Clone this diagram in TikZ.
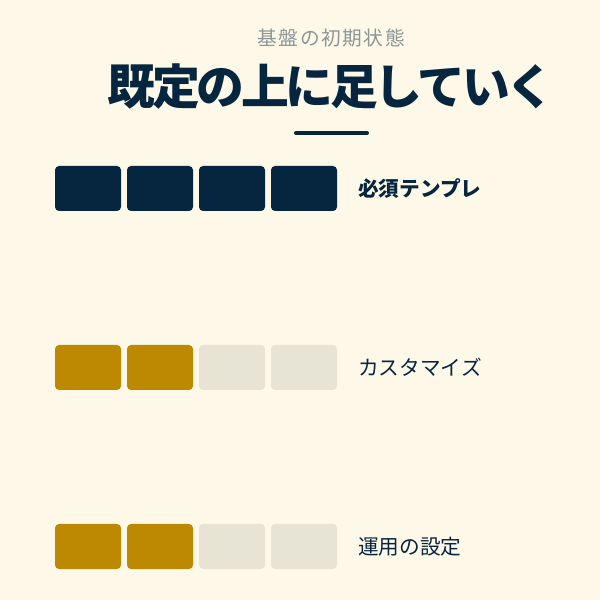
\documentclass[tikz,border=0pt]{standalone}
\usepackage{fontspec}
\usepackage{tikz}
\usetikzlibrary{positioning}
\newfontfamily\jpfont{Noto Sans CJK JP}
\definecolor{PageBack}{HTML}{FEF8E8}
\definecolor{BaseNavy}{HTML}{06263F}
\definecolor{CustomGold}{HTML}{BC8900}
\definecolor{EmptyGrey}{HTML}{E7E3D5}
\definecolor{SubGrey}{HTML}{8C9798}
\tikzset{
  cell/.style={rounded corners=0.1cm, minimum width=1.65cm, minimum height=1.125cm, inner sep=0pt},
  rowlabel/.style={anchor=west, inner sep=0pt, text=BaseNavy, font=\jpfont\fontsize{14.7}{16}\selectfont}
}

\begin{document}
\begin{tikzpicture}
    % Canvas
    \fill[PageBack] (0,0) rectangle (15,15);
    \useasboundingbox (0,0) rectangle (15,15);
    % Heading
    \node[text=SubGrey, font=\jpfont\addfontfeature{LetterSpace=8}\fontsize{14}{16}\selectfont] (subtitle) at (8.28,14.05) {基盤の初期状態};
    \node[text=BaseNavy, font=\jpfont\bfseries\addfontfeature{LetterSpace=-7}\fontsize{34}{38}\selectfont] (title) at (8.275,12.825) {既定の上に足していく};
    \coordinate (ruleL) at (7.4,11.675);
    \coordinate (ruleR) at (9.175,11.675);
    \draw[BaseNavy, line width=0.1cm, line cap=round] (ruleL) -- (ruleR);
    % Required template
    \node[cell, fill=BaseNavy] (reqA) at (2.2,10.2875) {};
    \node[cell, fill=BaseNavy] (reqB) at (4.0,10.2875) {};
    \node[cell, fill=BaseNavy] (reqC) at (5.8,10.2875) {};
    \node[cell, fill=BaseNavy] (reqD) at (7.6,10.2875) {};
    \node[rowlabel, font=\jpfont\bfseries\fontsize{14.7}{16}\selectfont] (reqText) at (8.95,10.29) {必須テンプレ};
    % Customize
    \node[cell, fill=CustomGold] (cusA) at (2.2,5.8125) {};
    \node[cell, fill=CustomGold] (cusB) at (4.0,5.8125) {};
    \node[cell, fill=EmptyGrey] (cusC) at (5.8,5.8125) {};
    \node[cell, fill=EmptyGrey] (cusD) at (7.6,5.8125) {};
    \node[rowlabel] (cusText) at (8.95,5.81) {カスタマイズ};
    % Operation settings
    \node[cell, fill=CustomGold] (opsA) at (2.2,1.3375) {};
    \node[cell, fill=CustomGold] (opsB) at (4.0,1.3375) {};
    \node[cell, fill=EmptyGrey] (opsC) at (5.8,1.3375) {};
    \node[cell, fill=EmptyGrey] (opsD) at (7.6,1.3375) {};
    \node[rowlabel] (opsText) at (8.95,1.34) {運用の設定};
  \end{tikzpicture}
\end{document}
